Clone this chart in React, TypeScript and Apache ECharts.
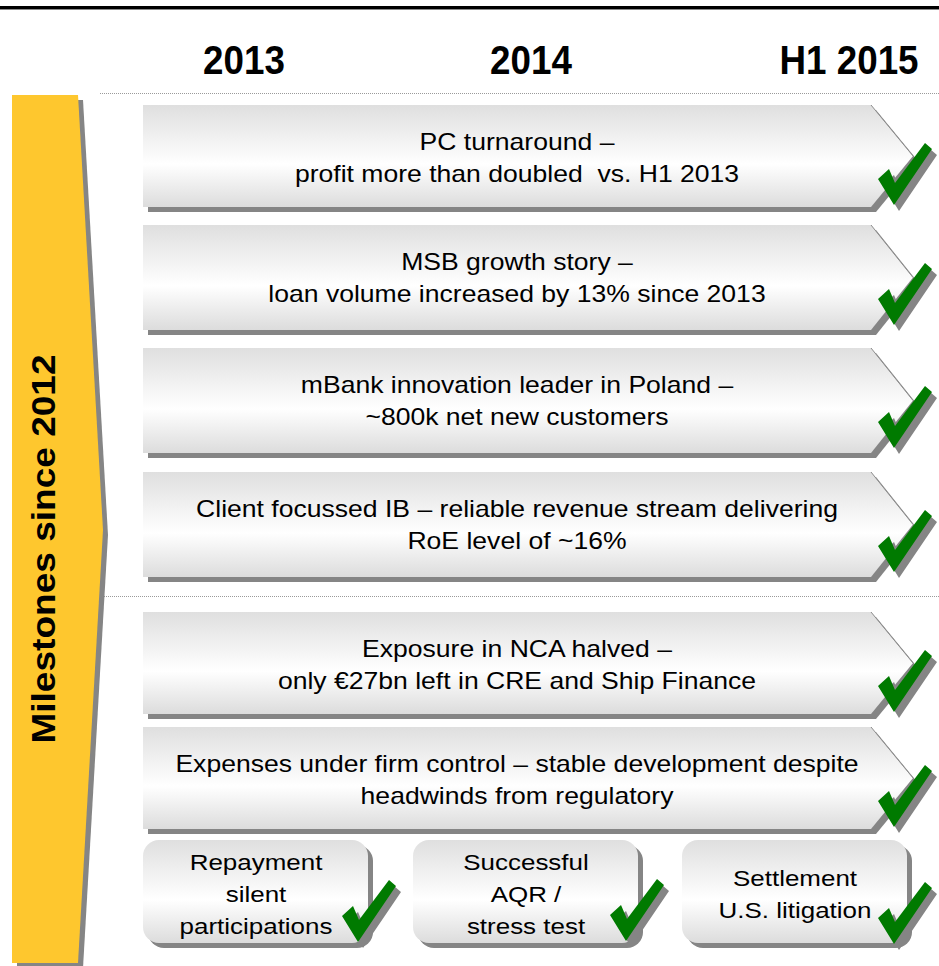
import React, { useEffect, useRef } from "react";
import * as echarts from "echarts";

// ---- content ----
const headers: string[] = ["2013", "2014", "H1 2015"];
const sideTitle = "Milestones since 2012";
const milestoneLines: string[][] = [
  ["PC turnaround –", "profit more than doubled  vs. H1 2013"],
  ["MSB growth story –", "loan volume increased by 13% since 2013"],
  ["mBank innovation leader in Poland –", "~800k net new customers"],
  ["Client focussed IB – reliable revenue stream delivering", "RoE level of ~16%"],
  ["Exposure in NCA halved –", "only €27bn left in CRE and Ship Finance"],
  ["Expenses under firm control – stable development despite", "headwinds from regulatory"],
];
const smallMilestones: string[][] = [
  ["Repayment", "silent", "participations"],
  ["Successful", "AQR /", "stress test"],
  ["Settlement", "U.S. litigation"],
];

// ---- layout ----
const W = 939;
const H = 966;
const headerX = [244, 531, 849];
const boxTops = [105, 225, 348, 472, 612, 727];
const boxHeights = [102, 105, 105, 105, 102, 102];
const boxLeft = 143;
const boxRight = 871;
const boxTip = 913;
const smallBoxX = [143, 413, 682];
const smallBoxW = 225;
const smallBoxTop = 840;
const smallBoxH = 103;
const smallCheckPos = [
  [342, 880],
  [610, 879],
  [878, 882],
];

const FONT = "'Liberation Sans', Arial, sans-serif";
const GREEN = "#007A00";
const SHADOW = "#858585";
const YELLOW = "#FEC72E";

const checkPts = [
  [0, 36],
  [11, 26],
  [17, 40],
  [47, 0],
  [54, 6],
  [16, 62],
];

function boxGradient() {
  return new echarts.graphic.LinearGradient(0, 0, 0, 1, [
    { offset: 0, color: "#DFDFDF" },
    { offset: 0.58, color: "#FFFFFF" },
    { offset: 1, color: "#DCDCDC" },
  ]);
}

function check(x: number, y: number): any[] {
  return [
    {
      type: "polygon",
      x: x + 5,
      y: y + 6,
      shape: { points: checkPts },
      style: { fill: SHADOW },
    },
    {
      type: "polygon",
      x,
      y,
      shape: { points: checkPts },
      style: { fill: GREEN },
    },
  ];
}

function text(t: string, x: number, y: number, size: number, opts: any = {}): any {
  return {
    type: "text",
    x,
    y,
    scaleX: opts.scaleX ?? 1,
    rotation: opts.rotation ?? 0,
    style: {
      text: t,
      x: 0,
      y: 0,
      fill: "#000",
      fontSize: size,
      fontFamily: FONT,
      fontWeight: opts.bold ? "bold" : "normal",
      align: "center",
      verticalAlign: "middle",
    },
  };
}

export default function App() {
  const ref = useRef<HTMLDivElement>(null);
  useEffect(() => {
    if (!ref.current) return;
    const chart = echarts.init(ref.current, undefined, { renderer: "svg" });
    const els: any[] = [];

    // top rule
    els.push({ type: "rect", shape: { x: 0, y: 6, width: W, height: 3 }, style: { fill: "#000" } });
    els.push({ type: "rect", shape: { x: 0, y: 9, width: W, height: 1 }, style: { fill: "#8a8a8a" } });

    // headers
    headers.forEach((h, i) => els.push(text(h, headerX[i], 60, 40, { bold: true, scaleX: 0.92 })));

    // dotted separators
    [93, 596].forEach((y) =>
      els.push({
        type: "line",
        shape: { x1: 100, y1: y + 0.5, x2: W, y2: y + 0.5 },
        style: { stroke: "#9a9a9a", lineWidth: 1, lineDash: [1, 1] },
      })
    );

    // side arrow
    const arrowPts = [
      [12, 95],
      [78, 95],
      [103, 530],
      [78, 963],
      [12, 963],
    ];
    els.push({ type: "polygon", x: 5, y: 5, shape: { points: arrowPts }, style: { fill: SHADOW } });
    els.push({ type: "polygon", shape: { points: arrowPts }, style: { fill: YELLOW } });
    els.push(text(sideTitle, 44, 549, 34, { bold: true, rotation: Math.PI / 2, scaleX: 1.09 }));

    // milestone boxes
    milestoneLines.forEach((lines, i) => {
      const t = boxTops[i];
      const h = boxHeights[i];
      const pts = [
        [boxLeft, t],
        [boxRight, t],
        [boxTip, t + h / 2],
        [boxRight, t + h],
        [boxLeft, t + h],
      ];
      els.push({ type: "polygon", x: 5, y: 5, shape: { points: pts }, style: { fill: SHADOW } });
      els.push({ type: "polygon", shape: { points: pts }, style: { fill: boxGradient() } });
      els.push({
        type: "polyline",
        shape: { points: [[boxRight, t], [boxTip, t + h / 2]] },
        style: { stroke: "#8c8c8c", lineWidth: 1, fill: null },
      });
      lines.forEach((ln, k) => els.push(text(ln, 517, t + 37 + k * 32, 23, { scaleX: 1.155 })));
      els.push(...check(878, t + 38));
    });

    // small rounded boxes
    smallMilestones.forEach((lines, i) => {
      const x = smallBoxX[i];
      els.push({
        type: "rect",
        shape: { x: x + 5, y: smallBoxTop + 5, width: smallBoxW, height: smallBoxH, r: 16 },
        style: { fill: SHADOW },
      });
      els.push({
        type: "rect",
        shape: { x, y: smallBoxTop, width: smallBoxW, height: smallBoxH, r: 16 },
        style: { fill: boxGradient() },
      });
      const cy = 894;
      const n = lines.length;
      lines.forEach((ln, k) =>
        els.push(text(ln, x + smallBoxW / 2 + 0.5, cy + (k - (n - 1) / 2) * 32, 22, { scaleX: 1.18 }))
      );
      els.push(...check(smallCheckPos[i][0], smallCheckPos[i][1]));
    });

    chart.setOption({
      animation: false,
      backgroundColor: "#ffffff",
      graphic: { elements: els },
    });
    return () => chart.dispose();
  }, []);
  return (
    <div
      ref={ref}
      style={{ position: "fixed", left: 0, top: 0, width: W, height: H, background: "#fff" }}
    />
  );
}
